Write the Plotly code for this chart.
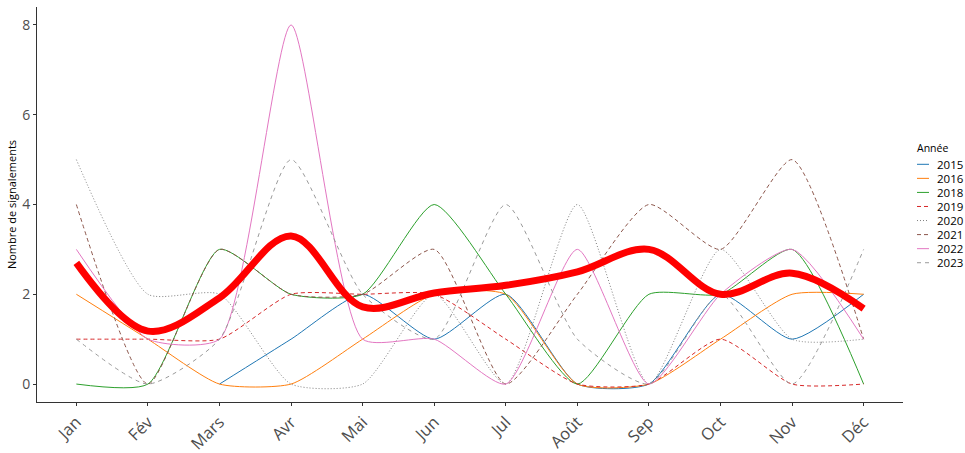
import plotly.graph_objects as go

# Monthly report counts per year (None = no data for that month)
months = ["Jan", "Fév", "Mars", "Avr", "Mai", "Jun", "Jul", "Août", "Sep", "Oct", "Nov", "Déc"]

y2015 = [None, None, 0, 1, 2, 1, 2, 0, 0, 2, 1, 2]
y2016 = [2, 1, 0, 0, 1, 2, 2, 0, 0, 1, 2, 2]
y2018 = [0, 0, 3, 2, 2, 4, 2, 0, 2, 2, 3, 0]
y2019 = [1, 1, 1, 2, 2, 2, 1, 0, 0, 1, 0, 0]
y2020 = [5, 2, 2, 0, 0, 2, 0, 4, 0, 3, 1, 1]
y2021 = [4, 0, 3, 2, 2, 3, 0, 2, 4, 3, 5, 1]
y2022 = [3, 1, 1, 8, 1, 1, 0, 3, 0, 2, 3, 1]
y2023 = [1, 0, 1, 5, 2, 1, 4, 1, 0, 2, 0, 3]

# Smoothed monthly trend across years
trend = [2.70, 1.18, 1.92, 3.30, 1.72, 2.03, 2.20, 2.50, 3.00, 2.00, 2.47, 1.68]

series = [
    ("2015", y2015, "#1f77b4", "solid"),
    ("2016", y2016, "#ff7f0e", "solid"),
    ("2018", y2018, "#2ca02c", "solid"),
    ("2019", y2019, "#d62728", "4px,3px"),
    ("2020", y2020, "#7f7f7f", "1px,2px"),
    ("2021", y2021, "#8c564b", "4px,3px"),
    ("2022", y2022, "#e377c2", "solid"),
    ("2023", y2023, "#9a9a9a", "4px,4px"),
]

fig = go.Figure()

for name, vals, color, dash in series:
    fig.add_trace(go.Scatter(
        x=months, y=vals, name=name, mode="lines",
        line=dict(color=color, width=1, dash=dash, shape="spline", smoothing=0.6),
        connectgaps=False, showlegend=False,
    ))

fig.add_trace(go.Scatter(
    x=months, y=trend, name="Tendance", mode="lines",
    line=dict(color="#ff0000", width=7, shape="spline", smoothing=1),
    showlegend=False,
))

# Hand-built legend to the right of the panel
L, R, T, B = 37, 62, 7, 51
W, H = 965, 453
pw, ph = W - L - R, H - T - B

def px_x(px):
    return (px - L) / pw

def px_y(py):
    return (H - B - py) / ph

shapes = []
annotations = [dict(
    x=px_x(916), y=px_y(148), xref="paper", yref="paper",
    text="Année", showarrow=False, xanchor="left", yanchor="middle",
    font=dict(size=10.5, color="#000000"), borderpad=0,
)]
for i, (name, vals, color, dash) in enumerate(series):
    yc = px_y(164.3 + 14.06 * i)
    shapes.append(dict(
        type="line", xref="paper", yref="paper",
        x0=px_x(917), x1=px_x(929), y0=yc, y1=yc,
        line=dict(color=color, width=1, dash=dash),
    ))
    annotations.append(dict(
        x=px_x(936), y=yc, xref="paper", yref="paper",
        text=name, showarrow=False, xanchor="left", yanchor="middle",
        font=dict(size=11.5, color="#000000"), borderpad=0,
    ))

fig.update_layout(
    width=W, height=H,
    margin=dict(l=L, r=R, t=T, b=B, autoexpand=False),
    paper_bgcolor="white", plot_bgcolor="white",
    font=dict(family="Open Sans", color="#4d4d4d"),
    shapes=shapes, annotations=annotations,
    showlegend=False,
)

fig.update_xaxes(
    type="category", categoryorder="array", categoryarray=months,
    range=[-0.55, 11.55], showgrid=False, zeroline=False,
    showline=True, linecolor="#333333", linewidth=1,
    ticks="outside", ticklen=3, tickcolor="#333333",
    tickangle=-45, tickfont=dict(size=16.5, color="#4d4d4d"),
)
fig.update_yaxes(
    range=[-0.4, 8.4], tickvals=[0, 2, 4, 6, 8], showgrid=False, zeroline=False,
    showline=True, linecolor="#333333", linewidth=1,
    ticks="outside", ticklen=3, tickcolor="#333333",
    tickfont=dict(size=14, color="#4d4d4d"),
    title=dict(text="Nombre de signalements", font=dict(size=11, color="#000000"), standoff=3),
)

fig.write_html("out.html")
